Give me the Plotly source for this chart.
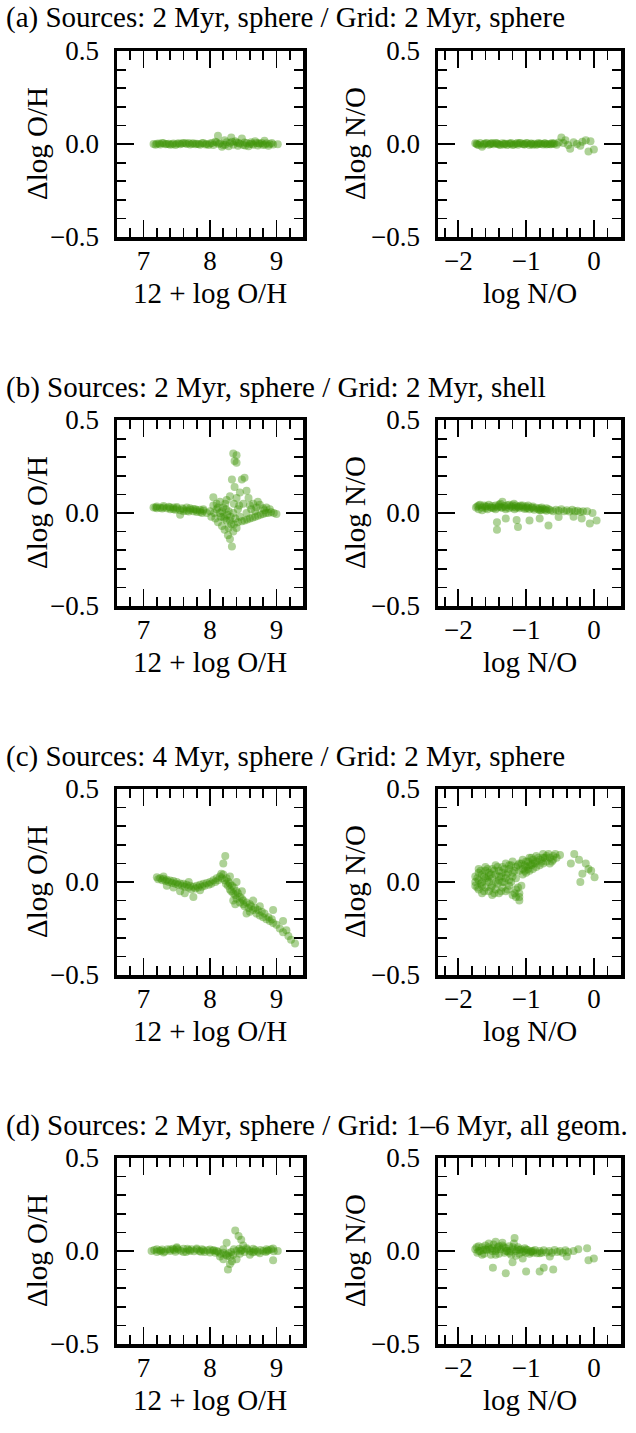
import plotly.graph_objects as go

FONT = "Liberation Serif"
GREEN = "rgb(62,148,6)"

row_titles = [
    "(a) Sources: 2 Myr, sphere / Grid: 2 Myr, sphere",
    "(b) Sources: 2 Myr, sphere / Grid: 2 Myr, shell",
    "(c) Sources: 4 Myr, sphere / Grid: 2 Myr, sphere",
    "(d) Sources: 2 Myr, sphere / Grid: 1–6 Myr, all geom.",
]
x_titles = ["12 + log O/H", "log N/O"]
y_titles = ["Δlog O/H", "Δlog N/O"]

oh_range = [6.6, 9.4]
no_range = [-2.3, 0.4]
dy_range = [-0.5, 0.5]
oh_ticks = [7, 8, 9]
no_ticks = [-2, -1, 0]
no_ticktext = ["−2", "−1", "0"]
dy_ticks = [-0.5, 0.0, 0.5]
dy_ticktext = ["−0.5", "0.0", "0.5"]

# (a) left: Delta log O/H vs 12+log O/H
a_oh = [(7.15,0.0),(7.2,0.002),(7.25,-0.003),(7.3,0.004),(7.35,0.0),(7.4,-0.004),(7.45,0.003),(7.5,0.001),
        (7.55,-0.002),(7.6,0.005),(7.65,0.0),(7.7,-0.003),(7.75,0.004),(7.8,0.002),(7.85,-0.004),(7.9,0.006),
        (7.95,0.0),(8.0,0.003),(8.05,-0.005),(8.1,0.008),(8.15,0.004),(8.2,-0.006),(8.25,0.01),(8.3,0.005),
        (8.35,-0.004),(8.4,0.008),(8.45,0.002),(8.5,-0.005),(8.55,0.006),(8.6,0.0),(8.65,-0.004),(8.7,0.005),
        (8.75,0.002),(8.8,-0.006),(8.85,0.004),(8.9,0.0),(8.95,-0.003),(9.02,-0.002),
        (7.18,-0.004),(7.28,0.005),(7.38,0.001),(7.48,-0.005),(7.58,0.003),(7.68,0.006),(7.78,-0.002),(7.88,0.004),
        (7.98,-0.006),(8.08,0.012),(8.12,0.045),(8.18,-0.015),(8.22,0.02),(8.28,-0.012),(8.32,0.035),(8.38,0.015),
        (8.42,-0.01),(8.48,0.03),(8.52,0.008),(8.58,-0.012),(8.62,0.01),(8.68,0.015),(8.72,-0.008),(8.78,0.006),
        (8.82,0.018),(8.88,-0.01),
        (7.23,0.003),(7.43,-0.002),(7.63,0.004),(7.83,0.0),(8.03,0.006),(8.23,-0.004),(8.43,0.005),(8.63,0.002),
        (8.83,-0.003),(7.33,-0.002),(7.53,0.004),(7.73,0.001),(7.93,-0.003),(8.13,0.0),(8.33,0.012),(8.53,-0.008),
        (8.73,0.004),(8.93,0.006)]
# (a) right: Delta log N/O vs log N/O
a_no = [(-1.75,0.004),(-1.72,-0.003),(-1.68,0.006),(-1.65,-0.015),(-1.62,0.002),(-1.58,0.005),(-1.55,-0.004),
        (-1.52,0.003),(-1.48,-0.002),(-1.45,0.006),(-1.42,0.0),(-1.38,-0.005),(-1.35,0.004),(-1.32,0.002),
        (-1.28,-0.006),(-1.25,0.003),(-1.22,0.005),(-1.18,-0.003),(-1.15,0.002),(-1.12,-0.004),(-1.08,0.006),
        (-1.05,0.0),(-1.02,-0.002),(-0.98,0.004),(-0.95,-0.005),(-0.92,0.003),(-0.88,0.001),(-0.85,-0.004),
        (-0.82,0.005),(-0.78,0.002),(-0.75,-0.003),(-0.72,0.004),(-0.68,0.0),(-0.65,-0.002),(-0.62,0.005),
        (-0.58,0.003),(-0.55,-0.004),
        (-1.7,-0.006),(-1.6,0.003),(-1.5,0.005),(-1.4,-0.003),(-1.3,0.002),(-1.2,-0.005),(-1.1,0.004),
        (-1.0,0.006),(-0.9,-0.004),(-0.8,0.002),(-0.7,-0.003),(-0.6,0.001),
        (-1.73,0.002),(-1.63,-0.004),(-1.53,0.0),(-1.43,0.004),(-1.33,-0.003),(-1.23,0.001),(-1.13,0.005),
        (-1.03,-0.003),(-0.93,0.002),(-0.83,-0.002),(-0.73,0.003),(-0.63,-0.001),
        (-0.52,0.008),(-0.48,0.035),(-0.45,0.005),(-0.42,0.02),(-0.38,-0.005),(-0.35,-0.025),(-0.3,0.01),
        (-0.25,0.0),(-0.2,-0.01),(-0.17,0.012),(-0.12,0.02),(-0.08,-0.04),(-0.05,0.015),(0.0,-0.03)]

# (b) left
b_oh = [(7.15,0.03),(7.2,0.035),(7.25,0.028),(7.3,0.03),(7.35,0.025),(7.4,0.03),(7.45,0.02),(7.5,0.025),
        (7.55,0.015),(7.6,0.02),(7.65,0.012),(7.7,0.018),(7.75,0.01),(7.8,0.015),(7.85,0.005),(7.9,0.012),
        (7.95,0.0),(7.2,0.025),(7.3,0.038),(7.4,0.02),(7.5,0.032),(7.6,0.01),(7.7,0.025),(7.8,0.005),(7.9,0.02),
        (7.55,-0.01),(7.65,0.03),(7.75,0.022),(7.85,0.018),(7.45,0.03),
        (7.18,0.03),(7.28,0.024),(7.38,0.034),(7.48,0.018),(7.58,0.026),(7.68,0.008),(7.78,0.02),(7.88,0.0),
        (8.0,0.01),(8.02,-0.02),(8.05,0.04),(8.05,0.085),(8.08,-0.03),(8.1,0.02),(8.1,0.05),(8.12,-0.05),
        (8.15,0.0),(8.15,0.06),(8.18,-0.07),(8.2,0.03),(8.2,-0.02),(8.22,-0.09),(8.25,0.07),(8.25,-0.04),
        (8.27,-0.12),(8.28,0.01),(8.3,-0.14),(8.3,0.09),(8.32,-0.06),(8.33,-0.18),(8.33,0.18),(8.35,0.32),
        (8.35,-0.1),(8.36,0.05),(8.37,0.28),(8.37,0.14),(8.38,-0.03),(8.4,0.31),(8.4,0.27),(8.4,0.08),
        (8.42,-0.05),(8.42,0.02),(8.45,0.11),(8.45,-0.02),(8.48,0.18),(8.5,0.05),(8.52,0.19),(8.55,0.12),
        (8.58,0.08),(8.28,-0.08),(8.18,0.01),(8.12,0.03),(8.23,0.05),(8.35,0.0),(8.31,-0.02),(8.26,-0.01),
        (8.4,-0.08),(8.44,0.04),(8.22,-0.03),(8.3,-0.04),(8.36,-0.06),(8.16,-0.02),(8.06,0.0),(8.24,0.02),
        (8.48,-0.045),(8.52,-0.04),(8.56,-0.035),(8.6,-0.03),(8.64,-0.025),(8.68,-0.02),(8.72,-0.015),
        (8.76,-0.01),(8.8,-0.005),(8.84,0.0),(8.88,0.0),(8.92,0.005),(8.96,0.0),(9.0,-0.005),
        (8.6,0.04),(8.65,0.05),(8.7,0.03),(8.75,0.045),(8.8,0.025),(8.85,0.03),(8.62,0.02),(8.72,0.06),
        (8.82,0.015),(8.9,0.02),(8.55,0.0),(8.68,0.01)]
# (b) right
b_no = [(-1.72,0.035),(-1.7,0.02),(-1.68,0.045),(-1.65,0.03),(-1.62,0.04),(-1.6,0.025),(-1.58,0.035),
        (-1.55,0.045),(-1.52,0.03),(-1.5,0.038),(-1.48,0.025),(-1.45,0.04),(-1.42,0.03),(-1.4,0.035),
        (-1.38,0.05),(-1.35,0.028),(-1.32,0.038),(-1.3,0.03),(-1.28,0.042),(-1.25,0.025),(-1.22,0.035),
        (-1.2,0.03),(-1.18,0.05),(-1.15,0.028),(-1.12,0.032),(-1.1,0.025),(-1.08,0.04),(-1.05,0.03),
        (-1.02,0.022),(-1.0,0.035),(-0.98,0.028),(-0.95,0.02),(-0.92,0.03),(-0.9,0.025),(-0.88,0.018),
        (-0.85,0.028),(-0.82,0.02),(-0.8,0.025),(-0.78,0.015),(-0.75,0.022),(-0.72,0.018),(-0.7,0.012),
        (-0.67,0.02),(-0.64,0.015),(-0.6,0.01),(-0.56,0.018),(-0.52,0.012),(-0.48,0.02),(-0.44,0.01),
        (-0.4,0.015),(-0.36,0.008),(-0.32,0.018),(-0.28,0.01),(-0.24,0.012),(-0.2,0.005),(-0.16,0.01),
        (-1.7,0.04),(-1.6,0.035),(-1.5,0.028),(-1.4,0.045),(-1.3,0.02),(-1.2,0.042),(-1.1,0.035),(-1.0,0.025),
        (-0.9,0.035),(-0.8,0.015),(-0.7,0.025),(-1.65,0.015),(-1.45,0.02),(-1.25,0.045),(-1.05,0.04),
        (-1.35,0.06),(-1.15,0.04),(-1.74,0.03),(-1.57,0.02),(-1.37,0.03),(-1.17,0.02),(-0.97,0.04),(-0.77,0.03),
        (-1.43,-0.05),(-1.43,-0.09),(-1.12,-0.075),(-1.14,-0.037),(-0.95,-0.04),(-0.67,-0.067),(-0.52,-0.022),
        (-0.3,-0.02),(-0.18,-0.03),(-0.06,-0.057),(0.04,-0.04),(-1.3,-0.03),(-0.8,-0.03),(-0.1,0.01),(-0.02,0.0)]

# (c) left
c_oh = [(7.2,0.025),(7.22,0.015),(7.25,0.02),(7.28,0.01),(7.3,0.018),(7.33,0.005),(7.35,0.012),(7.38,0.0),
        (7.4,0.008),(7.43,-0.005),(7.45,0.005),(7.48,-0.01),(7.5,0.0),(7.52,-0.015),(7.55,-0.008),(7.58,-0.02),
        (7.6,-0.01),(7.62,-0.025),(7.65,-0.015),(7.68,-0.03),(7.7,-0.02),(7.72,-0.04),(7.75,-0.025),
        (7.78,-0.035),(7.8,-0.02),(7.82,-0.03),(7.85,-0.015),(7.88,-0.025),(7.9,-0.01),(7.92,-0.02),
        (7.95,-0.005),(7.98,-0.015),(8.0,0.0),(8.02,-0.01),(8.05,0.01),(8.08,0.0),(8.1,0.02),(8.12,0.01),
        (8.15,0.03),(8.17,0.045),(8.18,0.02),(8.2,0.04),
        (7.55,-0.05),(7.62,-0.06),(7.75,-0.08),(7.45,-0.03),(7.35,-0.02),(7.85,-0.045),(8.2,0.1),(8.23,0.14),
        (7.3,0.03),(7.68,0.0),
        (8.22,0.01),(8.24,-0.01),(8.25,0.02),(8.27,-0.02),(8.28,0.0),(8.3,-0.04),(8.3,-0.01),(8.32,-0.05),
        (8.33,-0.02),(8.35,-0.06),(8.36,-0.03),(8.38,-0.07),(8.4,-0.05),(8.4,-0.09),(8.42,-0.06),(8.45,-0.08),
        (8.45,-0.11),(8.48,-0.09),(8.5,-0.12),(8.5,-0.1),(8.52,-0.13),(8.55,-0.11),(8.58,-0.14),(8.6,-0.12),
        (8.6,-0.16),(8.62,-0.13),(8.65,-0.15),(8.68,-0.14),(8.7,-0.17),(8.72,-0.15),(8.75,-0.18),(8.78,-0.16),
        (8.8,-0.19),(8.82,-0.17),(8.85,-0.2),(8.88,-0.19),(8.9,-0.21),(8.93,-0.2),(8.95,-0.22),(9.0,-0.23),
        (9.05,-0.25),(9.1,-0.27),(9.15,-0.26),(9.18,-0.29),(9.22,-0.31),(9.28,-0.33),
        (8.38,-0.12),(8.55,-0.17),(8.65,-0.1),(8.4,0.0),(8.3,0.03),(8.48,-0.05),(8.75,-0.13),(8.95,-0.15),
        (9.1,-0.21),(8.35,-0.1)]
# (c) right
c_no = [(-1.75,0.0),(-1.75,0.03),(-1.75,-0.02),
        (-1.7,0.05),(-1.7,-0.04),(-1.7,0.01),(-1.7,0.07),
        (-1.65,-0.02),(-1.65,0.04),(-1.65,0.0),(-1.65,-0.06),
        (-1.6,0.06),(-1.6,0.02),(-1.6,-0.03),(-1.6,0.08),
        (-1.55,0.0),(-1.55,-0.05),(-1.55,0.05),(-1.55,0.03),
        (-1.5,0.07),(-1.5,-0.02),(-1.5,0.02),(-1.5,-0.07),
        (-1.45,0.04),(-1.45,0.09),(-1.45,-0.04),(-1.45,0.0),
        (-1.4,0.06),(-1.4,0.01),(-1.4,-0.06),(-1.4,0.03),
        (-1.35,0.08),(-1.35,-0.03),(-1.35,0.05),(-1.35,0.0),
        (-1.3,0.1),(-1.3,0.04),(-1.3,-0.05),(-1.3,0.02),
        (-1.25,0.07),(-1.25,-0.02),(-1.25,0.09),(-1.25,0.01),
        (-1.2,0.05),(-1.2,-0.07),(-1.2,0.11),(-1.2,0.03),
        (-1.15,0.08),(-1.15,-0.04),(-1.15,0.02),(-1.15,-0.08),
        (-1.1,0.1),(-1.1,-0.1),(-1.1,0.06),(-1.1,-0.06),(-1.1,-0.08),
        (-1.05,0.12),(-1.05,0.07),(-1.05,0.04),
        (-1.0,0.11),(-1.0,0.05),(-1.0,0.08),
        (-0.95,0.13),(-0.95,0.09),(-0.95,0.06),
        (-0.9,0.1),(-0.9,0.12),(-0.9,0.07),
        (-0.85,0.14),(-0.85,0.08),(-0.85,0.11),
        (-0.8,0.12),(-0.8,0.09),
        (-0.75,0.13),(-0.75,0.1),(-0.75,0.15),
        (-0.7,0.11),(-0.7,0.14),
        (-0.65,0.13),(-0.65,0.1),
        (-0.6,0.14),(-0.6,0.12),
        (-0.55,0.13),(-0.5,0.145),
        (-1.72,0.02),(-1.72,-0.03),(-1.67,0.06),(-1.67,-0.01),(-1.62,0.03),(-1.62,-0.05),(-1.57,0.07),
        (-1.57,0.01),(-1.52,0.04),(-1.52,-0.03),(-1.47,0.06),(-1.47,-0.06),(-1.42,0.08),(-1.42,-0.01),
        (-1.37,0.03),(-1.37,-0.05),(-1.32,0.07),(-1.32,0.0),(-1.27,0.05),(-1.27,-0.04),(-1.22,0.09),
        (-1.22,0.0),(-1.17,0.06),(-1.17,-0.06),(-1.12,0.09),(-1.12,-0.03),(-1.07,0.1),(-1.07,-0.02),
        (-1.02,0.09),(-1.02,0.06),(-0.97,0.11),(-0.97,0.07),(-0.92,0.13),(-0.92,0.09),(-0.87,0.1),
        (-0.82,0.13),(-0.77,0.11),(-0.72,0.13),(-0.67,0.15),(-0.62,0.11),(-0.57,0.15),
        (-0.34,0.10),(-0.29,0.15),(-0.22,0.12),(-0.2,0.0),(-0.17,0.045),(-0.12,0.1),(-0.08,0.07),
        (-0.04,0.06),(0.01,0.025)]

# (d) left
d_oh = [(7.12,0.0),(7.16,0.005),(7.2,-0.005),(7.24,0.003),(7.28,0.008),(7.32,-0.003),(7.36,0.01),(7.4,0.0),
        (7.44,0.012),(7.48,-0.004),(7.52,0.008),(7.56,0.002),(7.6,0.012),(7.64,-0.005),(7.68,0.006),
        (7.72,0.01),(7.76,-0.002),(7.8,0.008),(7.84,0.0),(7.88,0.01),(7.92,-0.006),(7.96,0.004),(8.0,-0.008),
        (8.04,0.003),(8.08,-0.01),(8.12,-0.004),(8.16,-0.015),(8.2,-0.01),(8.24,-0.02),(8.28,-0.012),
        (8.32,-0.005),(8.36,0.01),(8.4,0.0),(8.44,0.012),(8.48,0.005),(8.52,-0.005),(8.56,0.008),(8.6,0.0),
        (8.64,-0.008),(8.68,0.005),(8.72,-0.004),(8.76,0.006),(8.8,0.0),(8.84,-0.006),(8.88,0.004),
        (8.92,0.01),(8.96,-0.002),(9.02,0.0),
        (7.2,0.01),(7.3,-0.008),(7.4,0.008),(7.5,0.015),(7.6,-0.006),(7.7,0.0),(7.8,0.014),(7.9,0.004),
        (8.0,0.008),(8.1,0.0),(8.2,0.01),(8.3,-0.03),(8.35,-0.02),(8.45,-0.015),(8.55,0.015),(8.65,0.012),
        (8.75,-0.012),(8.85,0.01),(8.95,0.014),
        (7.26,0.0),(7.46,0.005),(7.66,0.012),(7.86,-0.004),(8.06,0.004),(8.26,-0.025),(8.46,0.0),(8.66,-0.004),
        (8.86,0.0),
        (8.38,0.11),(8.43,0.08),(8.25,0.045),(8.47,0.06),(8.27,-0.1),(8.3,-0.07),(8.2,-0.045),(8.95,-0.05),
        (8.4,-0.045),(8.33,-0.055),(8.15,-0.03),(8.5,0.03),(7.5,0.02),(8.6,-0.02)]
# (d) right
d_no = [(-1.75,0.01),(-1.72,-0.01),(-1.7,0.025),(-1.68,0.0),(-1.65,0.02),(-1.62,-0.015),(-1.6,0.03),
        (-1.58,0.005),(-1.55,0.02),(-1.52,-0.02),(-1.5,0.015),(-1.48,0.035),(-1.45,0.0),(-1.42,0.02),
        (-1.4,-0.015),(-1.38,0.01),(-1.35,0.03),(-1.32,-0.01),(-1.3,0.015),(-1.28,0.0),(-1.25,0.025),
        (-1.22,-0.02),(-1.2,0.01),(-1.18,0.04),(-1.15,0.0),(-1.12,0.02),(-1.1,-0.015),(-1.08,0.01),
        (-1.05,-0.005),(-1.02,0.015),(-1.0,-0.01),(-0.98,0.005),(-0.95,-0.015),(-0.92,0.0),(-0.9,-0.01),
        (-0.87,0.005),(-0.84,-0.012),(-0.8,0.0),(-0.77,-0.01),(-0.74,0.004),(-0.7,-0.008),(-0.66,0.0),
        (-0.62,-0.01),(-0.58,0.005),(-0.54,-0.006),(-0.5,0.0),(-0.46,-0.01),(-0.42,0.004),(-0.38,-0.006),
        (-1.7,0.0),(-1.6,0.01),(-1.5,0.0),(-1.4,0.025),(-1.3,0.0),(-1.2,0.02),(-1.1,0.005),(-1.0,0.008),
        (-0.9,0.0),(-0.8,-0.012),(-1.65,-0.02),(-1.45,-0.02),(-1.25,-0.01),(-1.15,-0.025),(-1.35,0.045),
        (-1.55,0.04),(-1.73,0.02),(-1.63,0.005),(-1.53,0.01),(-1.43,0.01),(-1.33,0.02),(-1.23,0.0),
        (-1.13,0.01),(-1.03,0.0),(-0.93,-0.005),
        (-1.49,-0.09),(-1.3,-0.12),(-1.0,-0.11),(-0.8,-0.11),(-0.74,-0.09),(-0.6,-0.1),(-1.2,-0.06),
        (-1.17,0.07),(-1.45,0.05),(-0.3,0.0),(-0.23,0.01),(-0.1,0.015),(-0.08,-0.05),(0.0,-0.04),
        (-0.4,-0.03),(-1.05,-0.04),(-0.65,-0.03)]

panels = [(a_oh, a_no), (b_oh, b_no), (c_oh, c_no), (d_oh, d_no)]

W, H = 636, 1433
col_px = [(117, 303), (438, 621)]
row_top = [51 + 369 * i for i in range(4)]
frame_h = 186
FS_TICK = 27
FS_TITLE = 29

fig = go.Figure()
annotations = []
tick_font = dict(family=FONT, size=FS_TICK, color="black")

for r, pair in enumerate(panels):
    top = row_top[r]
    bot = top + frame_h
    ydom = [1 - bot / H, 1 - top / H]
    for c, pts in enumerate(pair):
        idx = r * 2 + c + 1
        xs = [p[0] for p in pts]
        ys = [p[1] for p in pts]
        xname = "x" if idx == 1 else f"x{idx}"
        yname = "y" if idx == 1 else f"y{idx}"
        fig.add_trace(go.Scatter(
            x=xs, y=ys, mode="markers", xaxis=xname, yaxis=yname,
            marker=dict(size=8, color=GREEN, opacity=0.42, line=dict(width=0)),
            hoverinfo="skip"))
        x0, x1 = col_px[c]
        xdom = [x0 / W, x1 / W]
        if c == 0:
            xa = dict(range=oh_range, tickvals=oh_ticks, ticktext=[str(t) for t in oh_ticks],
                      minor=dict(dtick=0.2, tick0=7, ticks="inside", ticklen=9, tickwidth=1.8, tickcolor="black"))
        else:
            xa = dict(range=no_range, tickvals=no_ticks, ticktext=no_ticktext,
                      minor=dict(dtick=0.2, tick0=0, ticks="inside", ticklen=9, tickwidth=1.8, tickcolor="black"))
        xa.update(domain=xdom, anchor=yname, showline=True, linewidth=3.5, linecolor="black", mirror="ticks",
                  ticks="inside", ticklen=17, tickwidth=1.8, tickcolor="black", showgrid=False, zeroline=False,
                  tickfont=tick_font, ticklabelstandoff=-3, fixedrange=True, automargin=False)
        ya = dict(range=dy_range, tickvals=dy_ticks, ticktext=dy_ticktext, domain=ydom, anchor=xname,
                  showline=True, linewidth=3.5, linecolor="black", mirror="ticks",
                  ticks="inside", ticklen=17, tickwidth=1.8, tickcolor="black", showgrid=False, zeroline=False,
                  minor=dict(dtick=0.1, tick0=0, ticks="inside", ticklen=9, tickwidth=1.8, tickcolor="black"),
                  tickfont=tick_font, ticklabelstandoff=9, fixedrange=True, automargin=False)
        fig.layout[f"xaxis{idx}" if idx > 1 else "xaxis"] = xa
        fig.layout[f"yaxis{idx}" if idx > 1 else "yaxis"] = ya
        # axis titles
        annotations.append(dict(text=x_titles[c], x=(x0 + x1) / 2 / W, y=1 - (bot + 56) / H,
                                xref="paper", yref="paper", xanchor="center", yanchor="middle",
                                showarrow=False, font=dict(family=FONT, size=FS_TITLE, color="black")))
        ytx = 37 if c == 0 else 355
        annotations.append(dict(text=y_titles[c], x=ytx / W, y=1 - (top + bot) / 2 / H,
                                xref="paper", yref="paper", xanchor="center", yanchor="middle",
                                textangle=-90, showarrow=False,
                                font=dict(family=FONT, size=FS_TITLE, color="black")))
    annotations.append(dict(text=row_titles[r], x=4 / W, y=1 - (top - 33) / H, xref="paper", yref="paper",
                            xanchor="left", yanchor="middle", showarrow=False,
                            font=dict(family=FONT, size=FS_TITLE, color="black")))

fig.update_layout(template="none", width=W, height=H, margin=dict(l=0, r=0, t=0, b=0, autoexpand=False),
                  paper_bgcolor="white", plot_bgcolor="white", showlegend=False,
                  annotations=annotations)
fig.write_html("out.html", config={"displayModeBar": False, "staticPlot": True},
               post_script="document.body.style.margin='0px';document.body.style.overflow='hidden';")
